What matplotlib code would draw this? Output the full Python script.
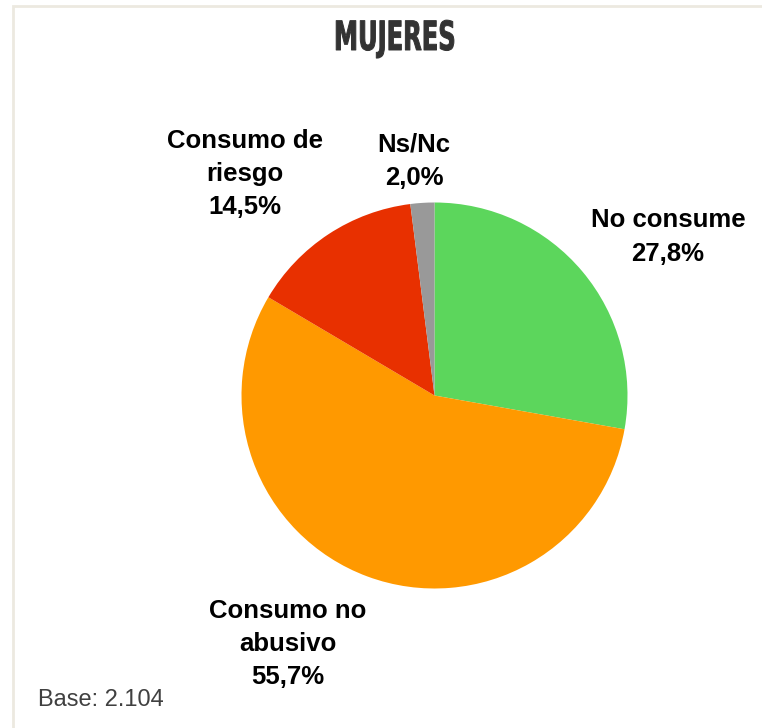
import matplotlib
matplotlib.use('Agg')
from matplotlib import pyplot as plt
from matplotlib.patches import Rectangle
from matplotlib.patheffects import AbstractPathEffect
from matplotlib.transforms import Affine2D

W, H = 762, 728

categories = ['No consume', 'Consumo no abusivo', 'Consumo de riesgo', 'Ns/Nc']
values = [27.8, 55.7, 14.5, 2.0]
label_text = ['No consume', 'Consumo no\nabusivo', 'Consumo de\nriesgo', 'Ns/Nc']
colors = ['#5CD65C', '#FF9900', '#E83000', '#999999']

# label anchors in pixel coords (x, y from top)
label_pos = [(668, 237), (288, 644), (245, 174), (414, 161)]


class Squeeze(AbstractPathEffect):
    # squeeze text horizontally around cx (display px) to fake a condensed heavy face
    def __init__(self, sx, cx, lw=0.0):
        super().__init__()
        self.sx = sx
        self.cx = cx
        self.lw = lw

    def draw_path(self, renderer, gc, tpath, affine, rgbFace=None):
        a = affine + Affine2D().translate(-self.cx, 0).scale(self.sx, 1).translate(self.cx, 0)
        gc0 = renderer.new_gc()
        gc0.copy_properties(gc)
        if self.lw > 0 and rgbFace is not None:
            gc0.set_linewidth(self.lw)
            gc0.set_foreground(rgbFace)
        renderer.draw_path(gc0, tpath, a, rgbFace)
        gc0.restore()


fig = plt.figure(figsize=(W / 100, H / 100), dpi=100)
fig.patch.set_facecolor('white')

ax = fig.add_axes([0, 0, 1, 1])

# light frame (only top and left visible)
fig.add_artist(Rectangle((13 / W, -0.1), 1.2, (H - 6) / H + 0.1, transform=fig.transFigure,
                         fill=False, edgecolor='#ECE9E0', linewidth=2))

ax.pie(values, colors=colors, startangle=90, counterclock=False,
       center=(434.5, H - 395.5), radius=193, frame=True,
       wedgeprops=dict(linewidth=0))
ax.set_xlim(0, W)
ax.set_ylim(0, H)
ax.set_aspect('equal')
ax.axis('off')

for txt, v, (x, y) in zip(label_text, values, label_pos):
    s = txt + '\n' + f'{v:.1f}'.replace('.', ',') + '%'
    ax.text(x, H - y, s, ha='center', va='center', fontsize=18.5, fontweight='bold',
            family=['Liberation Sans', 'DejaVu Sans'], linespacing=1.5, color='black')

ax.text(395, H - 39, 'MUJERES', ha='center', va='center', fontsize=29, fontweight='heavy',
        family=['DejaVu Sans'], color='#333333',
        path_effects=[Squeeze(0.6, 395, lw=0.7)])

ax.text(38, H - 700, 'Base: 2.104', ha='left', va='center', fontsize=17,
        family=['Liberation Sans', 'DejaVu Sans'], color='#404040')

fig.savefig('out.png', dpi=100)
